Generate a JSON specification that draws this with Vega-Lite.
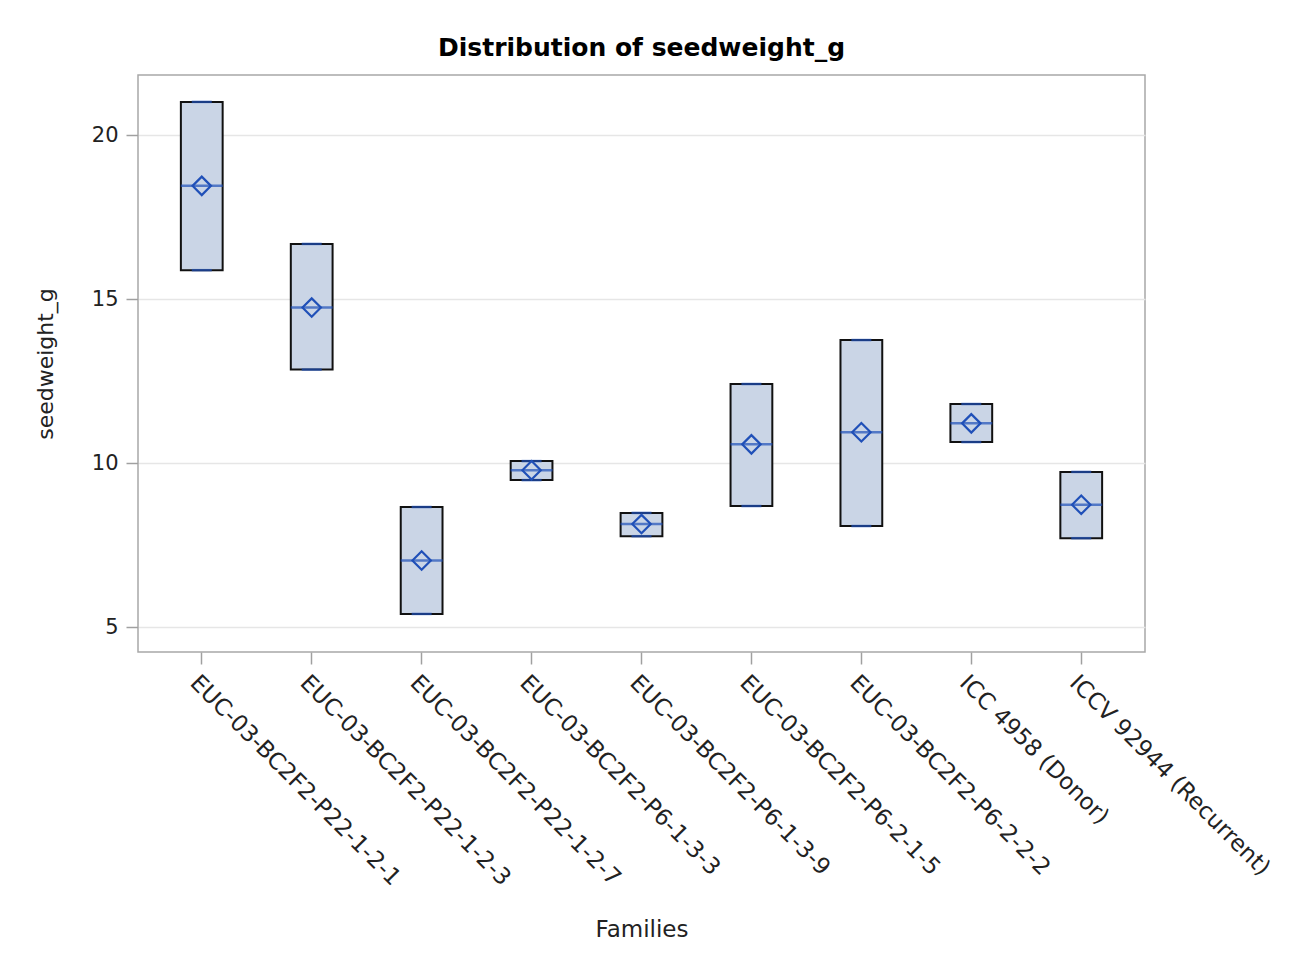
{
  "$schema": "https://vega.github.io/schema/vega-lite/v6.json",
  "width": 1007,
  "height": 577,
  "autosize": {"type": "none"},
  "padding": {"left": 138, "top": 75, "right": 150, "bottom": 311},
  "background": "white",
  "title": {
    "text": "Distribution of seedweight_g",
    "font": "DejaVu Sans",
    "fontSize": 25,
    "fontWeight": "bold",
    "color": "#000000",
    "anchor": "middle",
    "offset": 14
  },
  "config": {
    "view": {"stroke": "#A8A8A8", "strokeWidth": 1.5},
    "axis": {
      "labelFont": "DejaVu Sans",
      "titleFont": "DejaVu Sans",
      "labelColor": "#222222",
      "titleColor": "#222222",
      "titleFontWeight": "normal",
      "domain": false,
      "tickColor": "#A0A0A0",
      "tickWidth": 1.5,
      "tickSize": 12,
      "labelLimit": 500
    }
  },
  "data": {
    "values": [
      {"family": "EUC-03-BC2F2-P22-1-2-1", "min": 15.88, "max": 21.01, "median": 18.45, "mean": 18.45},
      {"family": "EUC-03-BC2F2-P22-1-2-3", "min": 12.85, "max": 16.68, "median": 14.74, "mean": 14.74},
      {"family": "EUC-03-BC2F2-P22-1-2-7", "min": 5.40, "max": 8.66, "median": 7.03, "mean": 7.03},
      {"family": "EUC-03-BC2F2-P6-1-3-3", "min": 9.48, "max": 10.06, "median": 9.78, "mean": 9.78},
      {"family": "EUC-03-BC2F2-P6-1-3-9", "min": 7.77, "max": 8.48, "median": 8.14, "mean": 8.14},
      {"family": "EUC-03-BC2F2-P6-2-1-5", "min": 8.69, "max": 12.41, "median": 10.57, "mean": 10.57},
      {"family": "EUC-03-BC2F2-P6-2-2-2", "min": 8.08, "max": 13.75, "median": 10.94, "mean": 10.94},
      {"family": "ICC 4958 (Donor)", "min": 10.64, "max": 11.80, "median": 11.21, "mean": 11.21},
      {"family": "ICCV 92944 (Recurrent)", "min": 7.71, "max": 9.73, "median": 8.73, "mean": 8.73}
    ]
  },
  "encoding": {
    "x": {
      "field": "family",
      "type": "nominal",
      "sort": null,
      "scale": {"paddingInner": 0.62, "paddingOuter": 0.39},
      "axis": {
        "title": "Families",
        "titleFontSize": 23,
        "titlePadding": 66,
        "labelFontSize": 23,
        "labelAngle": 45,
        "labelPadding": 7,
        "grid": false
      }
    }
  },
  "layer": [
    {
      "mark": {"type": "bar", "fill": "#CAD5E6", "stroke": "#111111", "strokeWidth": 2},
      "encoding": {
        "y": {
          "field": "min",
          "type": "quantitative",
          "scale": {"domain": [4.24, 21.83], "nice": false, "zero": false},
          "axis": {
            "title": "seedweight_g",
            "titleFontSize": 22,
            "titlePadding": 34,
            "labelFontSize": 21,
            "labelPadding": 8,
            "values": [5, 10, 15, 20],
            "grid": true,
            "gridColor": "#E6E6E6",
            "gridWidth": 1.5
          }
        },
        "y2": {"field": "max"}
      }
    },
    {
      "mark": {"type": "tick", "color": "#2050B8", "size": 20, "thickness": 2.5},
      "encoding": {"y": {"field": "max", "type": "quantitative"}}
    },
    {
      "mark": {"type": "tick", "color": "#2050B8", "size": 20, "thickness": 2.5},
      "encoding": {"y": {"field": "min", "type": "quantitative"}}
    },
    {
      "mark": {"type": "tick", "color": "#2050B8", "size": 42, "thickness": 2.5},
      "encoding": {"y": {"field": "median", "type": "quantitative"}}
    },
    {
      "mark": {"type": "point", "shape": "diamond", "filled": false, "stroke": "#2050B8", "strokeWidth": 2.2, "size": 340, "opacity": 1},
      "encoding": {"y": {"field": "mean", "type": "quantitative"}}
    }
  ]
}
